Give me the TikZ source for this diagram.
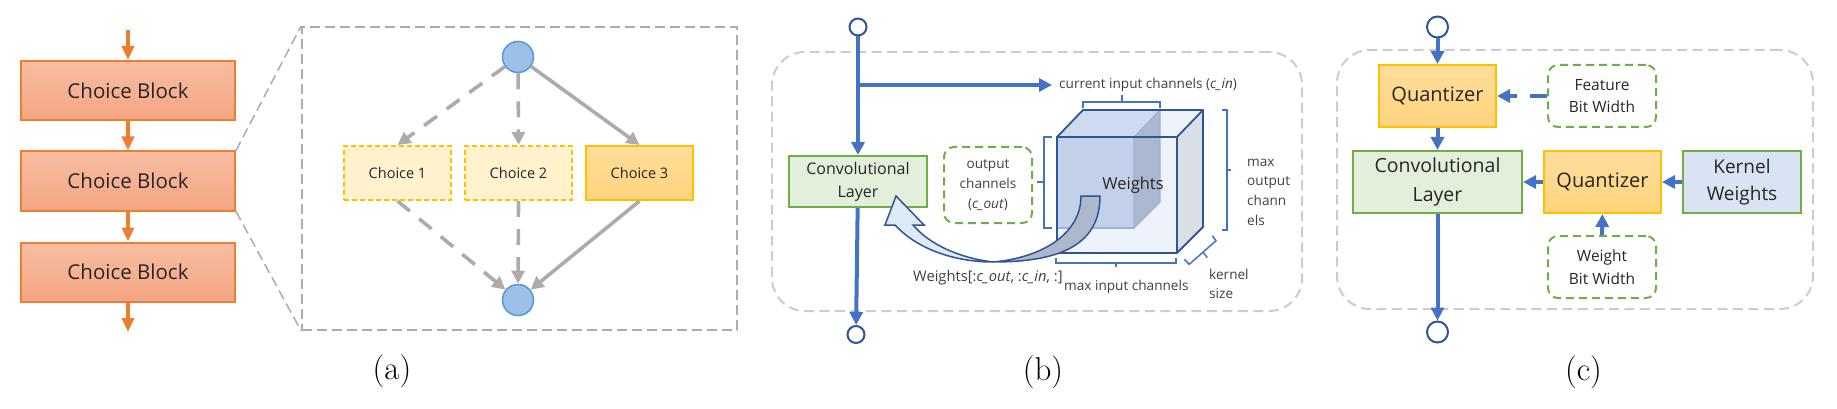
\documentclass[tikz,border=0pt]{standalone}
\usepackage{fontspec}
\setsansfont{Open Sans}
\usetikzlibrary{arrows.meta}
\definecolor{fireline}{HTML}{ED7D31}
\definecolor{firetop}{HTML}{F8BDA3}
\definecolor{firebot}{HTML}{F4A582}
\definecolor{goldline}{HTML}{FFC000}
\definecolor{goldpale}{HTML}{FFF2CC}
\definecolor{goldtop}{HTML}{FFDD9C}
\definecolor{goldbot}{HTML}{FFD47C}
\definecolor{leafline}{HTML}{70AD47}
\definecolor{leaffill}{HTML}{E2EFDA}
\definecolor{flowblue}{HTML}{4472C4}
\definecolor{navy}{HTML}{2F5597}
\definecolor{ballfill}{HTML}{9DC0E6}
\definecolor{ballline}{HTML}{5B9BD5}
\definecolor{kernfill}{HTML}{DAE3F3}
\definecolor{ink}{HTML}{262626}
\definecolor{cubefront}{HTML}{C2D0E9}
\definecolor{cubeinner}{HTML}{ABB8D0}
\definecolor{cubepale}{HTML}{EDF2FB}
\definecolor{cubeside}{HTML}{DADEE7}
\definecolor{cubetop}{HTML}{CEDAF0}
\definecolor{tailfill}{HTML}{ADB9CA}
\definecolor{headfill}{HTML}{DEEAF6}
\definecolor{warmgray}{HTML}{AFABAB}
\begin{document}
\begin{tikzpicture}[x=1pt,y=-1pt,text=ink,
sz/.style={font=\sffamily\fontsize{#1}{\the\dimexpr#1pt*29/20\relax}\selectfont},
box/.style={draw,inner sep=0,align=center,line width=2pt},
block/.style={box,draw=fireline,top color=firetop,bottom color=firebot,minimum width=214pt,minimum height=59pt,sz=20.5},
choice/.style={box,draw=goldline,fill=goldpale,dash pattern=on 5pt off 3pt,minimum width=107pt,minimum height=54pt,sz=14.5},
choicesel/.style={box,draw=goldline,top color=goldtop,bottom color=goldbot,minimum width=107pt,minimum height=54pt,sz=14.5},
ball/.style={circle,draw=ballline,fill=ballfill,line width=1.6pt,minimum size=31pt,inner sep=0},
port/.style={circle,draw=navy,fill=white,line width=2pt,inner sep=0},
conv/.style={box,draw=leafline,fill=leaffill},
quant/.style={box,draw=goldline,top color=goldtop,bottom color=goldbot,minimum width=117pt,minimum height=62pt,sz=20},
dbox/.style={box,draw=leafline,rounded corners=10pt,dash pattern=on 8pt off 5pt},
panel/.style={draw=black!20,line width=2pt,rounded corners=33pt,dash pattern=on 10pt off 5.5pt,inner sep=0},
lab/.style={inner sep=0,sz=13.6,align=left,text=black!75},
subcap/.style={inner sep=0,font=\rmfamily\fontsize{33}{36}\selectfont,text=black},
fire/.style={-{Triangle[length=14pt,width=12pt]},draw=fireline,line width=3.5pt},
grayflow/.style={-{Triangle[length=13pt,width=13pt]},draw=warmgray,line width=3.6pt},
graydash/.style={grayflow,dash pattern=on 16pt off 12pt},
blueflow/.style={-{Triangle[length=13pt,width=13pt]},draw=flowblue,line width=4pt},
cubeline/.style={draw=navy,line width=1.8pt,line join=round},
brk/.style={draw=flowblue,line width=1.5pt},
curveout/.style={draw=navy,line width=1.5pt,line join=miter}]
	\useasboundingbox (0,0) rectangle (1837,409);

	%choice blocks
	\node[block] at (128,90.5) (b1) {Choice Block};
	\node[block] at (128,181) (b2) {Choice Block};
	\node[block] at (128,272) (b3) {Choice Block};
	\coordinate (in1) at (128,30);
	\coordinate (out1) at (128,332);
	\draw[fire] (in1) -- (b1);
	\draw[fire] (b1) -- (b2);
	\draw[fire] (b2) -- (b3);
	\draw[fire] (b3) -- (out1);

	%zoomed block
	\node[draw=warmgray,line width=1.8pt,dash pattern=on 10pt off 5pt,minimum width=435pt,minimum height=303pt,inner sep=0] at (519.5,178.5) (zbox) {};
	\draw[draw=warmgray,line width=1.5pt,dash pattern=on 10pt off 5pt] (b2.north east) -- (zbox.north west);
	\draw[draw=warmgray,line width=1.5pt,dash pattern=on 10pt off 5pt] (b2.south east) -- (zbox.south west);
	\node[ball] at (518,57) (top) {};
	\node[ball] at (518,300) (bot) {};
	\node[choice] at (397.5,173) (c1) {Choice 1};
	\node[choice] at (518.5,173) (c2) {Choice 2};
	\node[choicesel] at (639.5,173) (c3) {Choice 3};
	\draw[graydash] (top) -- (c1.north);
	\draw[graydash] (top) -- (c2.north);
	\draw[grayflow] (top) -- (c3.north);
	\draw[graydash] (c1.south) -- (bot);
	\draw[graydash] (c2.south) -- (bot);
	\draw[grayflow] (c3.south) -- (bot);
	\node[subcap] at (392,371) (capa) {(a)};

	%weight sharing
	\node[panel,minimum width=530pt,minimum height=259pt] at (1037,181.5) (pb) {};
	\node[port,minimum size=17pt] at (858,27) (bin) {};
	\node[port,minimum size=17pt] at (856,334.5) (bout) {};
	\node[conv,minimum width=138pt,minimum height=51pt,sz=16] at (858,181.5) (bconv) {Convolutional\\Layer};
	\coordinate (j1) at (858,85);
	\node[lab,anchor=west] at (1059,85) (lin) {current input channels (\textit{c\_in})};
	\draw[blueflow] (bin) -- (bconv);
	\draw[blueflow] (bconv) -- (bout);
	\draw[blueflow,shorten >=7pt] (j1) -- (lin.west);

	%cube
	\fill[fill=cubepale] (1083,110) -- (1203,110) -- (1177,137) -- (1057,137) -- cycle;
	\fill[fill=cubepale] (1057,137) rectangle (1177,253);
	\fill[fill=cubeside] (1177,137) -- (1203,110) -- (1203,227) -- (1177,253) -- cycle;
	\fill[fill=cubetop] (1083,110) -- (1160,110) -- (1134,137) -- (1057,137) -- cycle;
	\fill[fill=cubefront] (1057,137) rectangle (1134,228);
	\fill[fill=cubeinner,draw=navy!45,line width=1.2pt] (1134,137) -- (1160,110) -- (1160,202) -- (1134,228) -- cycle;
	\draw[draw=navy!45,line width=1.2pt] (1057,228) -- (1134,228);
	\draw[cubeline] (1057,137) rectangle (1177,253);
	\draw[cubeline] (1057,137) -- (1083,110) -- (1203,110) -- (1177,137);
	\draw[cubeline] (1203,110) -- (1203,227) -- (1177,253);
	\node[inner sep=0,sz=16.5] at (1133,185) (wlab) {Weights};

	%curved arrow
	\draw[curveout,fill=headfill] (993,262) .. controls (960,262) and (920,252) .. (895,225) -- (885,225) -- (896,196) -- (924,225) -- (913,225) .. controls (930,245) and (960,258) .. (993,262) -- cycle;
	\draw[curveout,fill=tailfill] (1081,196) -- (1100,196) .. controls (1100,245) and (1060,262) .. (993,262) .. controls (1040,258) and (1081,235) .. (1081,196) -- cycle;

	%brackets
	\draw[brk] (1083,108) -- (1083,102) -- (1160,102) -- (1160,108) (1122,102) -- (1122,95);
	\draw[brk] (1222,110) -- (1227,110) -- (1227,230) -- (1222,230) (1227,170) -- (1231,170);
	\draw[brk] (1056,258) -- (1056,263) -- (1176,263) -- (1176,258) (1116,263) -- (1116,267);
	\draw[brk] (1052,137) -- (1044,137) -- (1044,228) -- (1052,228) (1044,182) -- (1037,182);
	\draw[brk] (1184.3,259.3) -- (1189.3,264.3) -- (1216,240.7) -- (1212.3,235.7) (1202.7,251.7) -- (1207.3,257.7);

	\node[dbox,minimum width=88pt,minimum height=76pt,sz=13.6,text=black!75] at (988,185) (cout) {output\\channels\\(\textit{c\_out})};
	\node[lab,anchor=west] at (1247,192) (mout) {max\\output\\chann\\els};
	\node[lab,anchor=west] at (1209,284) (ksize) {kernel\\size};
	\node[lab,anchor=west] at (1064,287) (minp) {max input channels};
	\node[lab,anchor=west,sz=14.7] at (913,278) (wslice) {Weights[:\textit{c\_out}, :\textit{c\_in}, :]};
	\node[subcap] at (1043,372) (capb) {(b)};

	%quantization
	\node[panel,minimum width=476pt,minimum height=259pt] at (1575,179.5) (pc) {};
	\node[port,minimum size=21pt] at (1437.5,27) (cin) {};
	\node[port,minimum size=21pt] at (1437.5,332) (cout2) {};
	\node[quant] at (1437.5,96) (q1) {Quantizer};
	\node[conv,minimum width=169pt,minimum height=62pt,sz=19.5] at (1437.5,182) (cconv) {Convolutional\\Layer};
	\node[quant] at (1602.5,182) (q2) {Quantizer};
	\node[conv,fill=kernfill,minimum width=118pt,minimum height=62pt,sz=19] at (1742,182) (kern) {Kernel\\Weights};
	\node[dbox,minimum width=108pt,minimum height=62pt,sz=15.5] at (1602,96) (fbit) {Feature\\Bit Width};
	\node[dbox,minimum width=108pt,minimum height=62pt,sz=15.5] at (1602,267) (wbit) {Weight\\Bit Width};
	\draw[blueflow] (cin) -- (q1);
	\draw[blueflow] (q1) -- (cconv);
	\draw[blueflow] (cconv) -- (cout2);
	\draw[blueflow] (q2) -- (cconv);
	\draw[blueflow] (kern) -- (q2);
	\draw[blueflow] (wbit) -- (q2);
	\draw[blueflow,dash pattern=on 17pt off 13pt] (fbit) -- (q1);
	\node[subcap] at (1583.5,372) (capc) {(c)};
\end{tikzpicture}
\end{document}
